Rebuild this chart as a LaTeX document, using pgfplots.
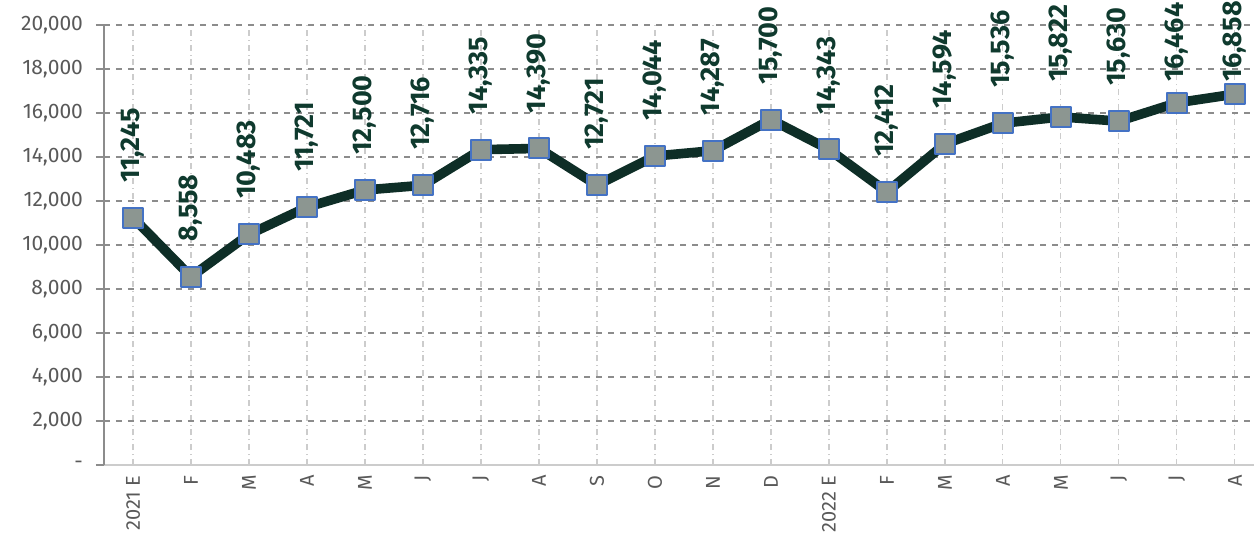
\documentclass[border=0pt]{standalone}
\usepackage{pgfplots}
\pgfplotsset{compat=1.18}
\usepackage{fontspec}
\setmainfont{Fira Sans}
\definecolor{lineC}{HTML}{0E2E27}
\definecolor{lblC}{HTML}{0F3A2E}
\definecolor{mkF}{HTML}{8C9691}
\definecolor{mkD}{HTML}{4472C4}
\definecolor{tickC}{HTML}{595959}
\begin{document}
\begin{tikzpicture}
\begin{axis}[
  name=ax,
  width=575pt, height=220pt,
  scale only axis,
  xmin=-0.5, xmax=19.33,
  ymin=0, ymax=20000,
  clip=false,
  scaled y ticks=false,
  axis x line*=bottom,
  axis y line*=left,
  x axis line style={draw=black!20, line width=0.8pt},
  y axis line style={draw=black!45, line width=0.8pt},
  xtick={0,...,19},
  xticklabels={2021 E,F,M,A,M,J,J,A,S,O,N,D,2022 E,F,M,A,M,J,J,A},
  x tick label style={rotate=90, anchor=east, inner sep=1pt, font=\fontsize{10}{12}\selectfont\color{tickC}},
  major x tick style={draw=none},
  ytick={0,2000,...,20000},
  yticklabels={-,{2,000},{4,000},{6,000},{8,000},{10,000},{12,000},{14,000},{16,000},{18,000},{20,000}},
  y tick label style={font=\fontsize{10.5}{12}\selectfont\color{tickC}, xshift=-3pt},
  major y tick style={draw=black!45, line width=0.8pt},
  tick align=outside,
  major tick length=4pt,
  ymajorgrids, xmajorgrids,
  y grid style={dashed, draw=black!45, line width=0.6pt},
  x grid style={dash dot, draw=black!20, line width=0.6pt},
]
\addplot[line width=4.8pt, draw=lineC, line join=round, line cap=round,
  mark=square*, mark size=5pt,
  mark options={fill=mkF, draw=mkD, line width=1pt, solid},
  visualization depends on={\thisrow{off} \as \lbloff},
  nodes near coords,
  nodes near coords style={rotate=90, anchor=west, inner sep=0pt, xshift=\lbloff pt, font=\fontsize{13.5}{15}\selectfont\bfseries, text=lblC,
    /pgf/number format/.cd, fixed, 1000 sep={,}, assume math mode=true},
]
table[x=x, y=y] {
x y off
0 11245 17.2
1 8558 17.2
2 10483 17.2
3 11721 17.2
4 12500 17.2
5 12716 17.2
6 14335 17.2
7 14390 17.2
8 12721 17.2
9 14044 17.2
10 14287 17.2
11 15700 17.2
12 14343 17.2
13 12412 17.2
14 14594 17.2
15 15536 17.2
16 15822 17.2
17 15630 17.2
18 16464 10
19 16858 6
};
\end{axis}
\pgfresetboundingbox
\path ([xshift=-52pt,yshift=-36pt]ax.south west) rectangle ([yshift=12.5pt]ax.north east);
\end{tikzpicture}
\end{document}
